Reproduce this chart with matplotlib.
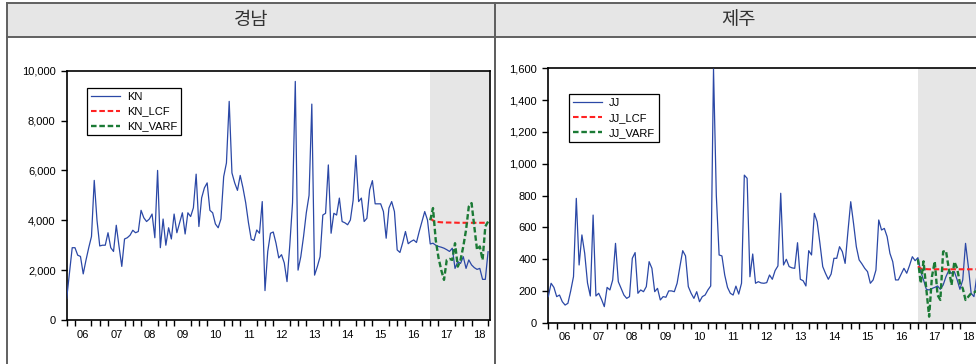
import numpy as np
import matplotlib
matplotlib.use('Agg')
import matplotlib.pyplot as plt
from matplotlib.lines import Line2D
from matplotlib.patches import Rectangle
from matplotlib.ticker import FuncFormatter

plt.rcParams['font.family'] = ['Liberation Sans', 'Noto Sans CJK KR', 'DejaVu Sans']
plt.rcParams['lines.scale_dashes'] = False

W, H = 976, 364

# monthly data, 2006-01 .. 2018-10
first_year = 2006
fc_start = (2017, 1)
year_labels = ['06', '07', '08', '09', '10', '11', '12', '13', '14', '15', '16', '17', '18']

kn = [870, 1900, 2900, 2900, 2600, 2550, 1850, 2400, 2900, 3350,
      5600, 4000, 2970, 3000, 3000, 3500, 2900, 2750, 3800, 2950,
      2150, 3250, 3300, 3400, 3600, 3500, 3550, 4400, 4100, 3950,
      4050, 4250, 3300, 6000, 2900, 4050, 3000, 3700, 3250, 4250,
      3500, 3900, 4300, 3450, 4300, 4150, 4500, 5850, 3750, 4900,
      5300, 5500, 4400, 4300, 3850, 3700, 4050, 5750, 6300, 8770,
      5900, 5500, 5200, 5800, 5300, 4700, 3900, 3240, 3190, 3610,
      3480, 4750, 1180, 2750, 3480, 3530, 3080, 2490, 2620, 2290,
      1540, 3000, 4700, 9570, 2000, 2540, 3350, 4300, 5000, 8660,
      1800, 2140, 2540, 4210, 4280, 6220, 3480, 4280, 4210, 4890,
      3950, 3900, 3820, 4010, 4800, 6600, 4750, 4890, 3950, 4080,
      5220, 5590, 4660, 4660, 4660, 4350, 3280, 4490, 4750, 4350,
      2810, 2710, 3100, 3550, 3060, 3150, 3210, 3110, 3550, 3950,
      4350, 4010, 3050, 3080, 3000, 2950, 2920, 2880, 2820, 2750,
      2880, 2070, 2340, 2270, 2540, 2070, 2410, 2210, 2100, 2030,
      2070, 1630, 1630, 2740]

kn_lcf = [4080, 3990, 3950, 3930, 3920, 3915, 3910, 3910, 3905, 3905, 3900,
          3900, 3900, 3900, 3900, 3900, 3900, 3900, 3900, 3900, 3900, 3900]
kn_varf = [4000, 4490, 3200, 2500, 2000, 1610, 2410, 2450, 2410, 3080, 2140,
           2410, 2950, 3610, 4550, 4690, 3750, 2810, 2950, 2410, 3750, 3950]

jj = [164, 248, 222, 164, 174, 132, 111, 122, 200, 290,
      782, 363, 552, 436, 250, 168, 677, 168, 185, 147,
      101, 222, 206, 269, 499, 258, 216, 174, 153, 164,
      405, 441, 185, 206, 195, 227, 384, 342, 195, 216,
      143, 164, 160, 200, 200, 195, 248, 353, 453, 420,
      227, 185, 153, 195, 132, 164, 174, 206, 231, 1595,
      800, 426, 420, 300, 222, 185, 174, 230, 180, 248,
      928, 908, 289, 432, 248, 258, 250, 248, 252, 300,
      273, 328, 357, 814, 363, 399, 353, 345, 342, 503,
      273, 264, 231, 453, 426, 688, 635, 499, 353, 310,
      273, 306, 405, 405, 478, 447, 373, 573, 761, 625,
      478, 395, 370, 342, 321, 248, 269, 331, 646, 583,
      593, 541, 436, 384, 269, 269, 306, 342, 311, 360,
      415, 390, 409, 321, 269, 210, 206, 215, 222, 231,
      210, 237, 289, 328, 311, 321, 270, 210, 269, 499,
      353, 185, 164, 289]

jj_lcf = [355, 340, 338, 337, 336, 336, 336, 336, 336, 336, 336,
          336, 336, 336, 336, 336, 336, 336, 336, 336, 336, 336]
jj_varf = [399, 248, 386, 210, 38, 289, 386, 174, 143, 447, 453,
           342, 237, 384, 342, 248, 216, 143, 164, 185, 190, 200]


def fbox(x0, y0, x1, y1):
    return [x0 / W, 1 - y1 / H, (x1 - x0) / W, (y1 - y0) / H]


def fline(fig, xs, ys, **kw):
    fig.add_artist(Line2D([x / W for x in xs], [1 - y / H for y in ys],
                          transform=fig.transFigure, **kw))


def panel(fig, x0, x1, title):
    fig.add_artist(Rectangle((x0 / W, 1 - 36.7 / H), (x1 - x0) / W, 33.7 / H,
                             transform=fig.transFigure, fc='#e6e6e6', ec='none'))
    kw = dict(color='#606060', lw=1.4)
    fline(fig, [x0, x1], [3, 3], **kw)
    fline(fig, [x0, x1], [36.7, 36.7], **kw)
    fline(fig, [x0, x0], [3, 364], **kw)
    fline(fig, [x1, x1], [3, 364], **kw)
    fig.text((x0 + x1) / 2 / W, 1 - 20 / H, title, ha='center', va='center',
             fontsize=13.5, color='#333333', family=['Noto Sans CJK KR'])


def draw(fig, box, series, lcf, varf, ymax, ystep, names, leg_xy):
    ax = fig.add_axes(fbox(*box))
    n = len(series)
    x = np.arange(n)
    f0 = (fc_start[0] - first_year) * 12 + fc_start[1] - 1
    fx = np.arange(f0, f0 + len(lcf))
    xmax = 153.7
    ax.axvspan(f0, xmax, color='#e6e6e6', lw=0, zorder=0)
    ax.plot(x, series, color='#2b48a6', lw=0.9, label=names[0], zorder=3)
    ax.plot(fx, lcf, color='#ff2222', lw=1.5, dashes=(4, 2), label=names[1], zorder=4)
    ax.plot(fx, varf, color='#1b7a35', lw=1.7, dashes=(4, 2), label=names[2], zorder=4)
    ax.set_xlim(0, xmax)
    ax.set_ylim(0, ymax)
    ax.set_yticks(np.arange(0, ymax + 1, ystep))
    ax.yaxis.set_major_formatter(FuncFormatter(lambda v, p: f'{v:,.0f}'))
    centers = [12 * i + 6 for i in range(len(year_labels))]
    ax.set_xticks(centers, year_labels)
    ax.set_xticks(np.arange(0, xmax, 3), minor=True)
    ax.tick_params(axis='x', which='major', length=0, pad=7, labelsize=8)
    ax.tick_params(axis='x', which='minor', direction='out', length=4, width=1)
    ax.tick_params(axis='y', direction='out', length=4, width=1, pad=4, labelsize=8)
    for s in ax.spines.values():
        s.set_linewidth(1.2)
        s.set_color('black')
    leg = ax.legend(loc='upper left', bbox_to_anchor=(leg_xy[0] / W, 1 - leg_xy[1] / H),
                    bbox_transform=fig.transFigure, fontsize=8, frameon=True,
                    fancybox=False, framealpha=1, edgecolor='black', borderpad=0.35,
                    handlelength=2.6, handletextpad=0.6, labelspacing=0.45,
                    borderaxespad=0)
    leg.get_frame().set_linewidth(0.9)
    return ax


fig = plt.figure(figsize=(W / 100, H / 100), dpi=100)
fig.patch.set_facecolor('white')

panel(fig, 7, 494.7, '경남')
panel(fig, 494.7, 983, '제주')

draw(fig, (66.7, 70.7, 490, 320), kn, kn_lcf, kn_varf, 10000, 2000,
     ['KN', 'KN_LCF', 'KN_VARF'], (87.3, 87.7))
draw(fig, (548.3, 68.3, 978.7, 322.7), jj, jj_lcf, jj_varf, 1600, 200,
     ['JJ', 'JJ_LCF', 'JJ_VARF'], (569.3, 94.3))

fig.savefig('out.png', dpi=100)
